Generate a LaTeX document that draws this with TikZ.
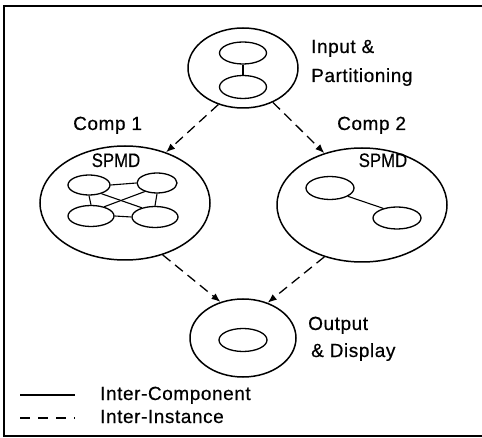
\documentclass[tikz,border=0pt]{standalone}
\usepackage{fontspec}
\setmainfont{Liberation Sans}[LetterSpace=3,FakeBold=0.5]
\newfontfamily\capsfont{Liberation Sans}[FakeBold=0.5]
\usetikzlibrary{shapes.geometric,arrows.meta}
\newcommand{\spmdtext}{\scalebox{0.86}[1]{\capsfont\fontsize{19.5}{21}\selectfont SPMD}}
\tikzset{
  ell/.style={ellipse, draw, line width=1.5pt, inner sep=0pt},
  sell/.style={ellipse, draw, line width=1.3pt, inner sep=0pt},
  conn/.style={line width=1.1pt},
  darrow/.style={line width=1.3pt, dash pattern=on 10pt off 6pt, -{Latex[length=9pt,width=7pt]}},
  lbl/.style={inner sep=0pt, anchor=base west, font=\fontsize{19}{21}\selectfont},
  spmd/.style={inner sep=0pt, anchor=base},
}
\begin{document}
\begin{tikzpicture}[x=1pt,y=-1pt]
\useasboundingbox (0,0) rectangle (482,438);
% frame
\draw[line width=2pt] (482,6) -- (4,6) -- (4,436) -- (482,436);

% Input & Partitioning
\node[ell, minimum width=110pt, minimum height=80pt] (in) at (243,68) {};
\node[sell, minimum width=47pt, minimum height=22pt] (int) at (243,53) {};
\node[sell, minimum width=47pt, minimum height=23pt] (inb) at (243,87) {};
\draw[conn] (int.south) -- (inb.north);
\node[lbl] (tin1) at (311,53) {Input \&};
\node[lbl] (tin2) at (311,82) {Partitioning};

% Comp 1
\node[ell, minimum width=170pt, minimum height=114pt] (c1) at (125,203) {};
\node[lbl] (tc1) at (73,130) {Comp 1};
\node[spmd] (s1) at (116,167) {\spmdtext};
\node[sell, minimum width=42pt, minimum height=20pt] (tl) at (89,185) {};
\node[sell, minimum width=40pt, minimum height=20pt] (tr) at (157,183) {};
\node[sell, minimum width=46pt, minimum height=21pt] (bl) at (91,216) {};
\node[sell, minimum width=46pt, minimum height=21pt] (br) at (155,217) {};
\draw[conn] (tl.east) -- (tr.west);
\draw[conn] (bl.east) -- (br.west);
\draw[conn] (tl.south) -- (bl.north);
\draw[conn] (tr.south) -- (br.north);
\draw[conn] (tl.-35) -- (br.145);
\draw[conn] (tr.215) -- (bl.35);

% Comp 2
\node[ell, minimum width=170pt, minimum height=114pt] (c2) at (362,205) {};
\node[lbl] (tc2) at (337,130) {Comp 2};
\node[spmd] (s2) at (383,167) {\spmdtext};
\node[sell, minimum width=48pt, minimum height=23pt] (ca) at (330,188) {};
\node[sell, minimum width=48pt, minimum height=22pt] (cb) at (397,218) {};
\draw[conn] (ca.-25) -- (cb.145);

% Output & Display
\node[ell, minimum width=106pt, minimum height=78pt] (out) at (243,338) {};
\node[sell, minimum width=48pt, minimum height=23pt] (outi) at (243,340) {};
\node[lbl] (tout1) at (308,330) {Output};
\node[lbl] (tout2) at (311,357) {\& Display};

% dashed arrows
\draw[darrow] (in.236) -- (c1.51);
\draw[darrow] (in.311) -- (c2.126);
\draw[darrow] (c1.306) -- (out.122);
\draw[darrow] (c2.234) -- (out.55);

% legend
\coordinate (la) at (20,395);
\coordinate (lb) at (75,395);
\coordinate (lc) at (20,418);
\coordinate (ld) at (75,418);
\draw[line width=1.3pt] (la) -- (lb);
\draw[line width=1.3pt, dash pattern=on 10pt off 8pt] (lc) -- (ld);
\node[lbl] (tl1) at (100,400) {Inter-Component};
\node[lbl] (tl2) at (100,423) {Inter-Instance};
\end{tikzpicture}
\end{document}
